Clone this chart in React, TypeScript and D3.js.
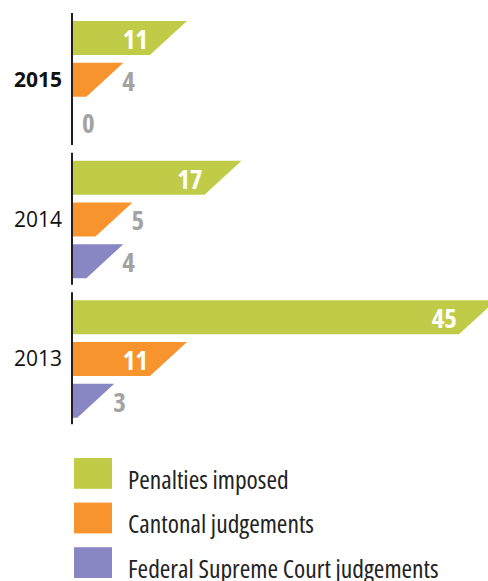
import React from "react";
import * as d3 from "d3";

const years = ["2015", "2014", "2013"];
const seriesNames = ["Penalties imposed", "Cantonal judgements", "Federal Supreme Court judgements"];
const penalties = [11, 17, 45];
const cantonal = [4, 5, 11];
const federal = [0, 4, 3];
const colors = ["#c0cc48", "#f7942d", "#8987c3"];

const W = 488;
const H = 581;
const FONT = "'Open Sans', 'Noto Sans', sans-serif";

export default function App() {
  const axisX = 72;
  const series = [penalties, cantonal, federal];
  const x = d3.scaleLinear().domain([0, 45]).range([axisX, axisX + 409]);
  const yGroup = d3.scaleBand<string>().domain(years).range([13, 432]).paddingInner(0).paddingOuter(0);
  const groupH = 132;
  const yInner = d3.scaleBand<number>().domain([0, 1, 2]).range([8, 125.5]).paddingInner(0.185).paddingOuter(0);
  const bh = yInner.bandwidth();
  const slantTop = 15;
  const slantBot = 22;

  const legendY = d3.scaleBand<number>().domain([0, 1, 2]).range([458, 578]).paddingInner(0.31).paddingOuter(0);

  return (
    <svg width={W} height={H} style={{ position: "absolute", left: 0, top: 0, background: "#fff" }}>
      <defs>
        <clipPath id="clip">
          <rect x={0} y={0} width={W} height={H} />
        </clipPath>
      </defs>
      <g clipPath="url(#clip)">
        {years.map((yr, gi) => {
          const g0 = yGroup(yr)!;
          return (
            <g key={yr}>
              {series.map((vals, si) => {
                const v = vals[gi];
                const top = g0 + yInner(si)!;
                const bot = top + bh;
                const tr = x(v) + slantTop;
                const br = Math.max(axisX, x(v) - slantBot);
                const inside = br - axisX > 60;
                const path =
                  v > 0
                    ? `M${axisX},${top}L${tr},${top}L${br},${bot}L${axisX},${bot}Z`
                    : "";
                return (
                  <g key={si}>
                    {v > 0 && <path d={path} fill={colors[si]} />}
                    <text
                      x={inside ? br - 2 : v > 0 ? tr - 1 : axisX + 10}
                      y={bot - 6}
                      textAnchor={inside ? "end" : "start"}
                      fill={inside ? "#ffffff" : "#a3a3a3"}
                      fontFamily={FONT}
                      fontWeight={700}
                      fontSize={27}
                      style={{ fontStretch: "condensed" }}
                    >
                      {v}
                    </text>
                  </g>
                );
              })}
              <line x1={axisX} x2={axisX} y1={g0} y2={g0 + groupH} stroke="#231f20" strokeWidth={2} />
              <text
                x={62}
                y={g0 + groupH / 2 + 8}
                textAnchor="end"
                fontFamily={FONT}
                fontWeight={gi === 0 ? 700 : 400}
                fontSize={21}
                fill="#111"
              >
                {yr}
              </text>
            </g>
          );
        })}
        {seriesNames.map((name, i) => {
          const y0 = legendY(i)!;
          return (
            <g key={name}>
              <rect x={74} y={y0} width={38} height={legendY.bandwidth()} fill={colors[i]} />
              <text
                x={128}
                y={y0 + legendY.bandwidth()}
                fontFamily={FONT}
                fontSize={25.5}
                fill="#222"
                style={{ fontStretch: "condensed" }}
              >
                {name}
              </text>
            </g>
          );
        })}
      </g>
    </svg>
  );
}
